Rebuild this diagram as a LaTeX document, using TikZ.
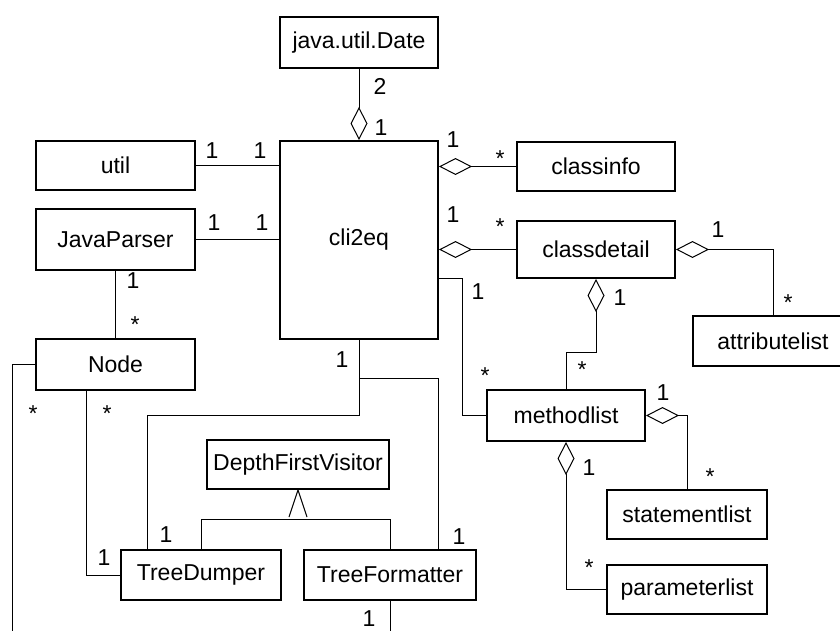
\documentclass[tikz,border=0pt]{standalone}
\usepackage{fontspec}
\setmainfont{Liberation Sans}
\usetikzlibrary{arrows.meta,calc}
\tikzset{
    cls/.style={
    rectangle,draw=black,line width=1pt,inner sep=0pt,minimum width=79pt,minimum height=25pt
    },
    mult/.style={
    inner sep=0pt
    },
    many/.style={
    inner sep=0pt,yshift=-2.3pt
    },
  link/.style={line width=0.5pt},
  aggr/.style={link, {Diamond[open,length=16.5pt,width=8.5pt]}-},
}

\begin{document}
\begin{tikzpicture}[x=0.5pt, y=-0.5pt, font=\fontsize{11.5}{13}\selectfont]
   \useasboundingbox (0,0) rectangle (840,631);

   % classes
   \node[cls,minimum height=25.5pt] (date)   at (359,42.5)  {java.util.Date};
   \node[cls,minimum height=99pt]   (cli2eq) at (359,240)   {cli2eq};
   \node[cls,minimum width=79.5pt,minimum height=24.5pt] (util)   at (115.5,165.5) {util};
   \node[cls,minimum width=79.5pt,minimum height=30.5pt] (parser) at (115.5,239.5) {JavaParser};
   \node[cls,minimum width=79.5pt,minimum height=25.5pt] (node)   at (115.5,364.5) {Node};
   \node[cls,minimum height=24.5pt] (classinfo)   at (596,166.5) {classinfo};
   \node[cls,minimum height=28.5pt] (classdetail) at (596,249.5) {classdetail};
   \node[cls,minimum width=80pt]    (attrib)      at (773,341)   {attributelist};
   \node[cls,minimum height=25.5pt] (methodlist)  at (566,415.5) {methodlist};
   \node[cls,minimum width=91pt,minimum height=24.5pt] (visitor) at (298,464.5) {DepthFirstVisitor};
   \node[cls,minimum width=80pt]    (dumper)    at (201,575) {TreeDumper};
   \node[cls,minimum width=86pt]    (formatter) at (390,575) {TreeFormatter};
   \node[cls,minimum width=80pt,minimum height=24.5pt] (stmt)  at (687,514.5) {statementlist};
   \node[cls,minimum width=80pt,minimum height=24.5pt] (param) at (687,589.5) {parameterlist};

   % bends
   \coordinate (cdml) at (596,352);
   \coordinate (ceml) at (462,278);
   \coordinate (cetd) at (147,415);
   \coordinate (cetf) at (438,378);
   \coordinate (notd) at (86,575);
   \coordinate (notf) at (12,631);
   \coordinate (gen)  at (298,519);

   % associations
   \path[link]
    (util.east)   edge (util.east -| cli2eq.west)
    (parser.east) edge (parser.east -| cli2eq.west)
    (parser)      edge (node);
   \draw[link] (ceml -| cli2eq.east) -- (ceml) |- (methodlist.west);
   \draw[link] (cli2eq.south) |- (cetd) -- (cetd |- dumper.north);
   \draw[link] (cetf -| cli2eq.south) -- (cetf) -- (cetf |- formatter.north);
   \draw[link] (notd |- node.south) |- (dumper.west);
   \draw[link] (node.west) -| (notf);
   \draw[link] (formatter.south) -- (formatter.south |- notf);

   % aggregations
   \path[aggr]
    (cli2eq.north) edge (date.south)
    (cli2eq.east |- classinfo) edge (classinfo)
    (cli2eq.east |- classdetail) edge (classdetail);
   \draw[aggr] (classdetail.east) -| (attrib.north);
   \draw[aggr] (classdetail.south) -- (cdml) -| (methodlist.north);
   \draw[aggr] (methodlist.east) -| (stmt.north);
   \draw[aggr] (methodlist.south) |- (param.west);

   % inheritance
   \draw[link] (dumper.north) -- (dumper.north |- gen) -- (formatter.north |- gen) -- (formatter.north);
   \draw[link] (visitor.south) +(-9,27) -- (visitor.south) -- +(9,27);

   % multiplicities
   \node[mult] (dateA)  at (380,86)  {2};
   \node[mult] (dateB)  at (381,128) {1};
   \node[mult] (utilA)  at (212,151) {1};
   \node[mult] (utilB)  at (260,151) {1};
   \node[mult] (parsA)  at (214,223) {1};
   \node[mult] (parsB)  at (262,223) {1};
   \node[mult] (parsC)  at (133,281) {1};
   \node[many] (parsD)  at (135,320) {*};
   \node[mult] (infoA)  at (453,140) {1};
   \node[many] (infoB)  at (500,154) {*};
   \node[mult] (detA)   at (453,215) {1};
   \node[many] (detB)   at (500,222) {*};
   \node[mult] (attrA)  at (718,230) {1};
   \node[many] (attrB)  at (788,298) {*};
   \node[mult] (methA)  at (620,298) {1};
   \node[many] (methB)  at (582,365) {*};
   \node[mult] (methC)  at (478,292) {1};
   \node[many] (methD)  at (485,371) {*};
   \node[mult] (stmtA)  at (663,393) {1};
   \node[many] (stmtB)  at (710,472) {*};
   \node[mult] (parmA)  at (589,468) {1};
   \node[many] (parmB)  at (589,563) {*};
   \node[mult] (treeA)  at (342,360) {1};
   \node[mult] (dumpA)  at (166,535) {1};
   \node[mult] (fmtA)   at (459,537) {1};
   \node[many] (nodeA)  at (107,409) {*};
   \node[mult] (dumpB)  at (104,558) {1};
   \node[many] (nodeB)  at (33,409)  {*};
   \node[mult] (fmtB)   at (369,619) {1};
\end{tikzpicture}
\end{document}
